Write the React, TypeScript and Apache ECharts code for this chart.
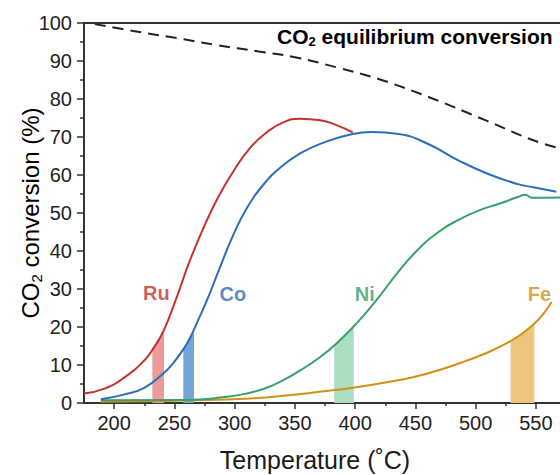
import React, { useEffect, useRef } from "react";
import * as echarts from "echarts";

const FONT = "'Liberation Sans', Arial, Helvetica, sans-serif";

const xMin = 175;
const xMax = 570;
const xTicks = [200, 250, 300, 350, 400, 450, 500, 550];
const xMinorTicks = [225, 275, 325, 375, 425, 475, 525];

const equilibrium = [
  [184, 99.7], [216, 97.9], [258, 95.7], [285, 94.2], [320, 92.5], [350, 91.0],
  [385, 88.3], [420, 85.2], [462, 80.4], [509, 74.3], [549, 69.0], [570, 67.0],
];
const ru = [
  [175, 2.5], [192, 3.8], [208, 6.6], [225, 11.2], [233, 14.6], [241, 19.0],
  [251, 27.0], [263, 37.6], [277, 48.1], [288, 55.1], [299, 61.0], [313, 67.2],
  [327, 71.3], [340, 73.8], [354, 74.8], [371, 74.4], [384, 73.2], [398, 71.2],
];
const co = [
  [189, 1.0], [208, 2.2], [225, 4.0], [241, 7.8], [250, 10.9], [258, 14.4],
  [264, 17.8], [269, 21.3], [277, 27.0], [288, 35.8], [299, 44.3], [310, 51.2],
  [324, 57.5], [338, 62.0], [354, 65.6], [371, 68.2], [398, 70.8], [414, 71.3],
  [436, 70.8], [461, 68.1], [486, 63.8], [511, 60.2], [535, 57.6], [549, 56.7],
  [567, 55.6],
];
const ni = [
  [189, 0.7], [260, 0.8], [290, 1.5], [310, 2.5], [325, 3.8], [338, 5.6],
  [354, 8.5], [371, 12.1], [385, 15.8], [401, 20.9], [418, 27.2], [434, 33.8],
  [451, 40.0], [470, 45.2], [487, 48.4], [503, 50.7], [520, 52.5], [535, 54.2],
  [541, 54.8], [547, 54.0], [570, 54.1],
];
const fe = [
  [189, 0.3], [268, 0.7], [313, 1.2], [341, 1.9], [372, 3.0], [398, 4.0],
  [425, 5.4], [448, 6.8], [470, 8.7], [492, 11.1], [510, 13.3], [525, 15.6],
  [537, 17.9], [547, 20.4], [555, 23.0], [563, 26.6],
];

const ruBand = [[231.7, 14.0], [241.4, 19.2]];
const coBand = [[257.4, 14.0], [266.3, 19.3]];
const niBand = [[382.6, 15.1], [398.9, 20.2]];
const feBand = [[529, 16.2], [548.7, 20.9]];

const RU = "#c4322c";
const CO = "#2c6db8";
const NI = "#37a06b";
const FE = "#d38f16";

const curveLabels = [
  { name: "Ru", value: [235, 28.9], color: RU },
  { name: "Co", value: [298.5, 28.7], color: CO },
  { name: "Ni", value: [408, 28.7], color: NI },
  { name: "Fe", value: [553, 28.7], color: FE },
];

function curve(name: string, data: number[][], color: string) {
  return {
    name,
    type: "line",
    data,
    smooth: 0.5,
    symbol: "none",
    z: 4,
    lineStyle: { color, width: 2 },
  };
}

function band(name: string, data: number[][], color: string) {
  return {
    name,
    type: "line",
    data,
    symbol: "none",
    z: 2,
    lineStyle: { width: 0 },
    areaStyle: { color, opacity: 1 },
  };
}

const yTitleRich = {
  main: { fontFamily: FONT, fontSize: 24, color: "#1a1a1a", lineHeight: 28 },
  sub: { fontFamily: FONT, fontSize: 15, color: "#1a1a1a", lineHeight: 14, verticalAlign: "bottom" },
};

export default function App() {
  const ref = useRef<HTMLDivElement>(null);
  useEffect(() => {
    if (!ref.current) return;
    const chart = echarts.init(ref.current, undefined, { renderer: "svg" });
    const axisCommon = { min: xMin, max: xMax, type: "value", splitLine: { show: false } };
    chart.setOption({
      animation: false,
      backgroundColor: "#ffffff",
      grid: { left: 84, right: 0, top: 23, bottom: 72 },
      xAxis: [
        {
          ...axisCommon,
          position: "bottom",
          axisLine: { show: true, onZero: false, lineStyle: { color: "#333", width: 2 } },
          axisTick: { show: true, customValues: xTicks, length: 6, lineStyle: { color: "#333", width: 1.5 } },
          axisLabel: { customValues: xTicks, fontSize: 20, color: "#222", margin: 10, fontFamily: FONT },
        },
        {
          ...axisCommon,
          position: "bottom",
          axisLine: { show: false },
          axisTick: { show: true, customValues: xMinorTicks, length: 3, lineStyle: { color: "#333", width: 1.5 } },
          axisLabel: { show: false },
        },
        {
          ...axisCommon,
          position: "top",
          axisLine: { show: true, onZero: false, lineStyle: { color: "#333", width: 2 } },
          axisTick: { show: false },
          axisLabel: { show: false },
        },
      ],
      yAxis: {
        type: "value",
        min: 0,
        max: 100,
        interval: 10,
        splitLine: { show: false },
        axisLine: { show: true, lineStyle: { color: "#333", width: 2 } },
        axisTick: { show: true, length: 7, lineStyle: { color: "#333", width: 1.5 } },
        minorTick: { show: true, splitNumber: 2, length: 4, lineStyle: { color: "#333", width: 1.5 } },
        axisLabel: { fontSize: 20, color: "#222", margin: 12, fontFamily: FONT },
      },
      series: [
        band("Ru band", ruBand, "#eb9b9c"),
        band("Co band", coBand, "#74a5d8"),
        band("Ni band", niBand, "#a9dfc0"),
        band("Fe band", feBand, "#ecc57e"),
        {
          name: "Equilibrium",
          type: "line",
          data: equilibrium,
          smooth: 0.4,
          symbol: "none",
          z: 3,
          lineStyle: { color: "#222", width: 2, type: [11, 7] },
        },
        curve("Fe", fe, FE),
        curve("Ni", ni, NI),
        curve("Co", co, CO),
        curve("Ru", ru, RU),
        {
          name: "labels",
          type: "scatter",
          symbolSize: 0,
          z: 5,
          data: curveLabels.map((d) => ({
            name: d.name,
            value: d.value,
            label: {
              show: true,
              position: "inside",
              formatter: d.name,
              color: d.color,
              fontSize: 20,
              fontWeight: "bold",
              fontFamily: FONT,
            },
          })),
        },
      ],
      graphic: [
        {
          type: "text",
          x: 277,
          y: 36,
          z: 10,
          style: {
            text: "{m|CO}{s|2}{m| equilibrium conversion}",
            verticalAlign: "middle",
            align: "left",
            rich: {
              m: { fontFamily: FONT, fontSize: 21, fontWeight: "bold", color: "#222", lineHeight: 24 },
              s: { fontFamily: FONT, fontSize: 13, fontWeight: "bold", color: "#222", lineHeight: 12, verticalAlign: "bottom" },
            },
          },
        },
        {
          type: "text",
          x: 315,
          y: 460,
          style: {
            text: "Temperature (˚C)",
            fontFamily: FONT,
            fontSize: 25,
            fill: "#1a1a1a",
            align: "center",
            verticalAlign: "middle",
          },
        },
        {
          type: "text",
          x: 30,
          y: 213,
          rotation: Math.PI / 2,
          style: {
            text: "{main|CO}{sub|2}{main| conversion (%)}",
            align: "center",
            verticalAlign: "middle",
            rich: yTitleRich,
          },
        },
      ],
    });
    return () => chart.dispose();
  }, []);
  return (
    <div
      ref={ref}
      style={{ position: "fixed", left: 0, top: 0, width: 560, height: 475, background: "#fff" }}
    />
  );
}
